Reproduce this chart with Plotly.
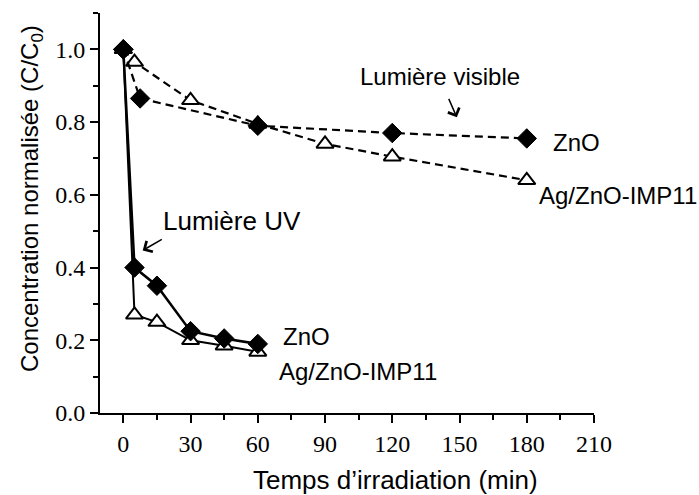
import plotly.graph_objects as go

# ---- data ----
time_uv = [0, 5, 15, 30, 45, 60]
uv_zno = [1.0, 0.40, 0.35, 0.225, 0.205, 0.19]
uv_ag = [1.0, 0.27, 0.25, 0.20, 0.185, 0.168]

time_vis_zno = [0, 7.5, 60, 120, 180]
vis_zno = [1.0, 0.865, 0.79, 0.77, 0.755]
time_vis_ag = [0, 5, 30, 60, 90, 120, 180]
vis_ag = [1.0, 0.965, 0.86, 0.795, 0.74, 0.705, 0.64]

x_ticks = [0, 30, 60, 90, 120, 150, 180, 210]
y_ticks = [0.0, 0.2, 0.4, 0.6, 0.8, 1.0]

SANS = "Liberation Sans"
SERIF = "Liberation Serif"

diamond = dict(symbol="diamond", size=15, color="black", line=dict(color="black", width=1))
triangle = dict(symbol="triangle-up", size=15, color="white", line=dict(color="black", width=2))

fig = go.Figure()
fig.add_trace(go.Scatter(x=time_vis_ag, y=vis_ag, mode="lines+markers",
                         line=dict(color="black", width=2.2, dash="8px,5px"), marker=triangle,
                         name="Ag/ZnO-IMP11 visible"))
fig.add_trace(go.Scatter(x=time_vis_zno, y=vis_zno, mode="lines+markers",
                         line=dict(color="black", width=2.2, dash="8px,5px"), marker=diamond,
                         name="ZnO visible"))
fig.add_trace(go.Scatter(x=time_uv, y=uv_ag, mode="lines+markers",
                         line=dict(color="black", width=2), marker=triangle,
                         name="Ag/ZnO-IMP11 UV"))
fig.add_trace(go.Scatter(x=time_uv, y=uv_zno, mode="lines+markers",
                         line=dict(color="black", width=2.5), marker=diamond,
                         name="ZnO UV"))

axis_common = dict(
    showline=True, linecolor="black", linewidth=2,
    ticks="outside", ticklen=8, tickwidth=2, tickcolor="black",
    showgrid=False, zeroline=False,
    tickfont=dict(family=SERIF, size=24, color="black"),
)

fig.update_xaxes(range=[-10.4, 210], tickvals=x_ticks, ticktext=[str(v) for v in x_ticks],
                 minor=dict(ticks="outside", ticklen=5, tickwidth=2, tickcolor="black", dtick=15, tick0=0),
                 **axis_common)
fig.update_yaxes(range=[0, 1.1], tickvals=y_ticks, ticktext=[f"{v:.1f}" for v in y_ticks],
                 minor=dict(ticks="outside", ticklen=5, tickwidth=2, tickcolor="black", dtick=0.1, tick0=0),
                 **axis_common)

ann_font = dict(family=SANS, size=24, color="black")
annotations = [
    dict(x=0.5975, y=-0.167, xref="paper", yref="paper", text="Temps d’irradiation (min)",
         showarrow=False, xanchor="center", yanchor="middle", font=dict(family=SANS, size=26, color="black")),
    dict(x=-0.14, y=0.537, xref="paper", yref="paper", text="Concentration normalisée (C/C<sub>0</sub>)",
         showarrow=False, xanchor="center", yanchor="middle", textangle=-90, font=ann_font),
    dict(x=141.5, y=0.926, xref="x", yref="y", text="Lumière visible", showarrow=False,
         xanchor="center", yanchor="middle", font=ann_font),
    dict(x=17.0, y=0.527, xref="x", yref="y", text="Lumière UV", showarrow=False,
         xanchor="left", yanchor="middle", font=dict(family=SANS, size=26, color="black")),
    dict(x=191.0, y=0.745, xref="x", yref="y", text="ZnO", showarrow=False,
         xanchor="left", yanchor="middle", font=ann_font),
    dict(x=184.5, y=0.598, xref="x", yref="y", text="Ag/ZnO-IMP11", showarrow=False,
         xanchor="left", yanchor="middle", font=ann_font),
    dict(x=70.2, y=0.211, xref="x", yref="y", text="ZnO", showarrow=False,
         xanchor="left", yanchor="middle", font=ann_font),
    dict(x=68.5, y=0.114, xref="x", yref="y", text="Ag/ZnO-IMP11", showarrow=False,
         xanchor="left", yanchor="middle", font=ann_font),
    # arrows
    dict(x=148.8, y=0.813, xref="x", yref="y", text="", showarrow=True, ax=-8.7, ay=-20,
         arrowhead=4, arrowsize=1.6, arrowwidth=1.5, arrowcolor="black"),
    dict(x=8.66, y=0.447, xref="x", yref="y", text="", showarrow=True, ax=20.6, ay=-12,
         arrowhead=4, arrowsize=1.6, arrowwidth=1.5, arrowcolor="black"),
]

fig.update_layout(
    width=699, height=495, autosize=False,
    margin=dict(l=100, r=105.3, t=13.3, b=81.7),
    paper_bgcolor="white", plot_bgcolor="white",
    showlegend=False,
    annotations=annotations,
    font=dict(family=SANS, color="black"),
)

fig.write_html("out.html")
